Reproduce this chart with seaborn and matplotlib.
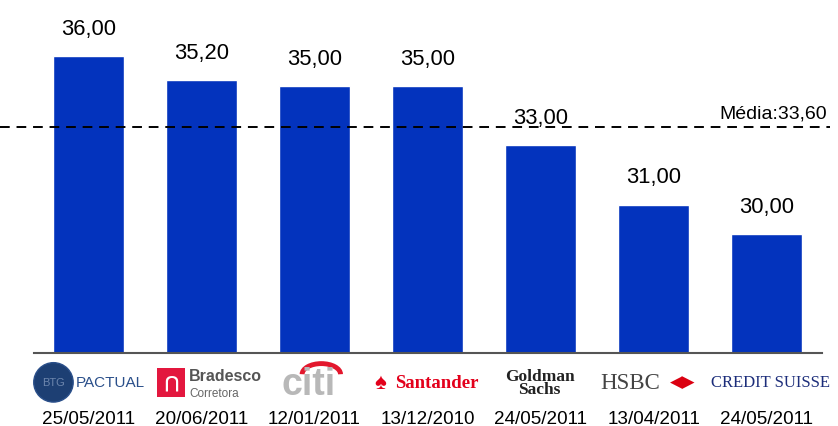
import matplotlib
matplotlib.use("Agg")
import matplotlib.pyplot as plt
import matplotlib.patches as mpatches
import seaborn as sns

# data
banks = ["BTG Pactual", "Bradesco Corretora", "Citi", "Santander",
         "Goldman Sachs", "HSBC", "Credit Suisse"]
dates = ["25/05/2011", "20/06/2011", "12/01/2011", "13/12/2010",
         "24/05/2011", "13/04/2011", "24/05/2011"]
prices = [36.00, 35.20, 35.00, 35.00, 33.00, 31.00, 30.00]
media = 33.60

sns.set_style("white")
plt.rcParams['font.family'] = ['Liberation Sans', 'DejaVu Sans']
plt.rcParams['text.color'] = 'black'
plt.rcParams['xtick.color'] = 'black'

fig = plt.figure(figsize=(8.38, 4.27), dpi=100)
ax = fig.add_axes([0.0406, 0.171, 0.9403, 0.829])

sns.barplot(x=banks, y=prices, color="#0333BD", saturation=1, width=0.628, ax=ax)

ax.set_ylim(26, 37.93)
ax.set_xlim(-0.482, 6.49)
ax.set_yticks([])
ax.set_ylabel("")
for s in ["top", "left", "right"]:
    ax.spines[s].set_visible(False)
ax.spines["bottom"].set_color("#555555")
ax.spines["bottom"].set_linewidth(1.5)

# value labels
ax.bar_label(ax.containers[0], labels=[f"{v:.2f}".replace(".", ",") for v in prices],
             padding=12.5, fontsize=15.8, color="black")

# dates as tick labels
ax.set_xticks(range(len(dates)))
ax.set_xticklabels(dates, fontsize=13.6, color="black")
ax.tick_params(axis="x", length=0, pad=41)

# mean line
ax.axhline(media, xmin=-0.043, xmax=1.01, color="black", lw=1.4,
           dashes=(5, 3.5), clip_on=False)
ax.annotate("Média:" + f"{media:.2f}".replace(".", ","), xy=(6.535, media),
            xytext=(0, 4), textcoords="offset points", ha="right", va="bottom",
            fontsize=14, annotation_clip=False)

# bank "logos" as text
tr = ax.get_xaxis_transform()
ly = -0.083
ax.text(-0.31, ly, "BTG", transform=tr, ha="center", va="center", color="#6d86ad",
        fontsize=8, bbox=dict(boxstyle="circle,pad=0.75", fc="#1d3f73", ec="#2a4f8a"))
ax.text(0.19, ly, "PACTUAL", transform=tr, ha="center", va="center",
        color="#2a4f8a", fontsize=11)

ax.text(0.73, ly, "⋂", transform=tr, ha="center", va="center", color="white",
        fontsize=12, fontweight="bold",
        bbox=dict(boxstyle="square,pad=0.4", fc="#e3173e", ec="none"))
ax.text(0.89, ly + 0.02, "Bradesco", transform=tr, ha="left", va="center",
        color="#555555", fontsize=11.5, fontweight="bold")
ax.text(0.89, ly - 0.03, "Corretora", transform=tr, ha="left", va="center",
        color="#666666", fontsize=8.5)

ax.text(1.95, ly - 0.005, "citi", transform=tr, ha="center", va="center",
        color="#b8b8b8", fontsize=27, fontweight="bold")
ax.add_patch(mpatches.Arc((2.06, -0.06), 0.34, 0.06, theta1=0, theta2=180,
                          transform=tr, color="#e3172d", lw=3.5, clip_on=False))

ax.text(2.58, ly, "♠", transform=tr, ha="center", va="center",
        color="#e3001b", fontsize=16)
ax.text(3.08, ly, "Santander", transform=tr, ha="center", va="center",
        color="#e3001b", fontsize=13.5, fontweight="bold", family="Liberation Serif")

ax.text(3.99, ly, "Goldman\nSachs", transform=tr, ha="center", va="center",
        color="#222222", fontsize=12.5, fontweight="bold", family="Liberation Serif",
        linespacing=0.8)

ax.text(4.79, ly, "HSBC", transform=tr, ha="center", va="center",
        color="#444444", fontsize=16.5, family="Liberation Serif")
ax.text(5.26, ly, "◀▶", transform=tr, ha="center", va="center",
        color="#db0011", fontsize=12)

ax.text(6.03, ly, "CREDIT SUISSE", transform=tr, ha="center", va="center",
        color="#1c2d7a", fontsize=12, family="Liberation Serif")

fig.savefig("out.png", dpi=100)
